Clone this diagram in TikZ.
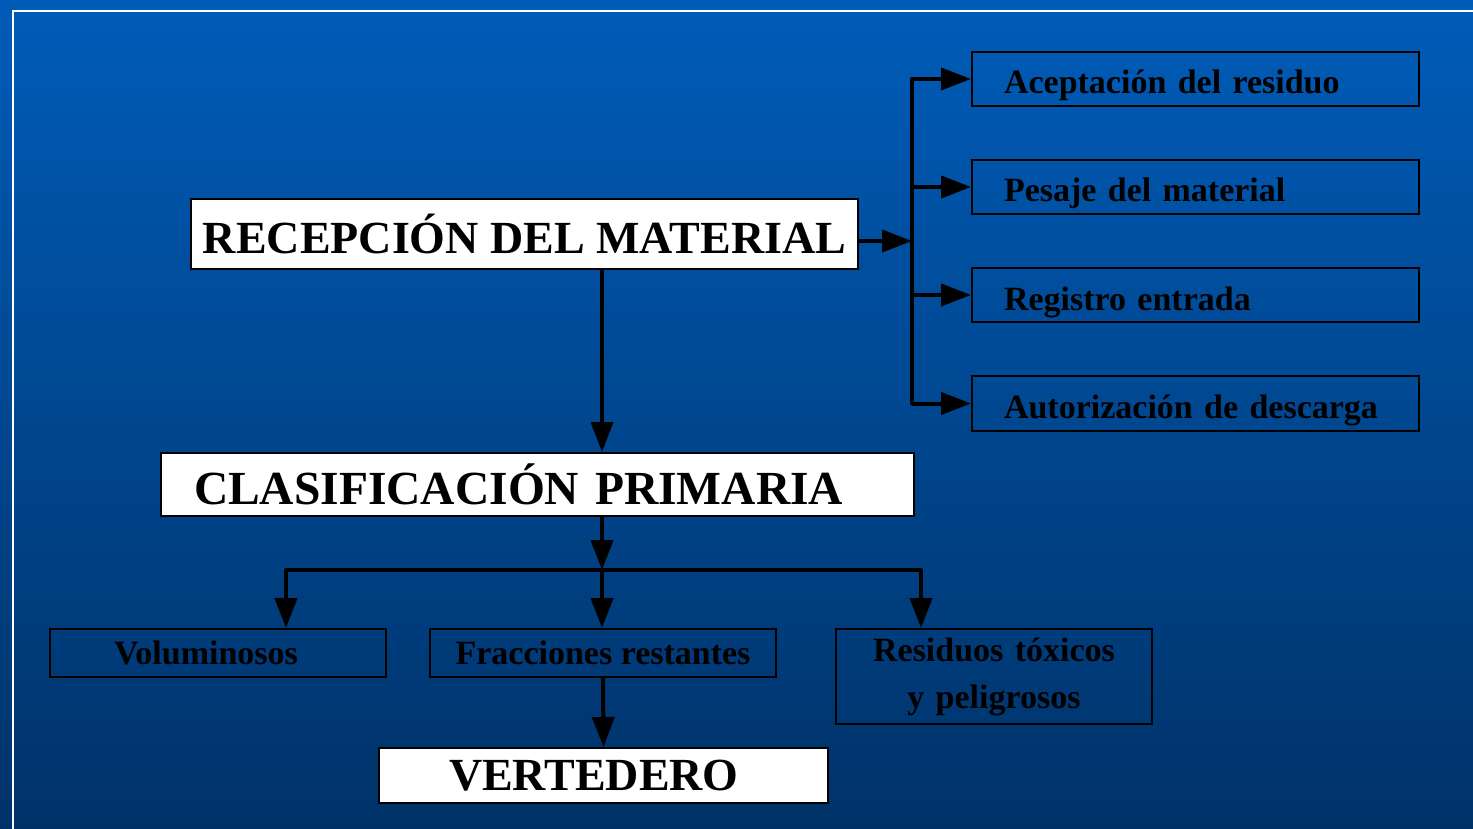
\documentclass[tikz,border=0pt]{standalone}
\usepackage{fontspec}
\setmainfont{Liberation Serif}
\usetikzlibrary{positioning,arrows.meta}
\definecolor{bgtop}{RGB}{0,92,184}
\definecolor{bgbottom}{RGB}{0,50,104}

\begin{document}
\begin{tikzpicture}[
    x=1pt, y=-1pt,
    mainbox/.style={rectangle, draw=black, fill=white, line width=2pt, anchor=north west, inner sep=0pt, font=\bfseries\fontsize{46}{50}\selectfont},
    stepbox/.style={rectangle, draw=black, line width=2pt, anchor=north west, inner sep=0pt, font=\bfseries\fontsize{34}{47}\selectfont},
    sidebox/.style={stepbox, inner xsep=32pt, text width=383pt, align=left, minimum height=54pt, text height=30pt, text depth=0pt},
    flow/.style={line width=4pt, line join=round, -{Triangle[length=30pt,width=22pt]}},
    ]
    %Background
    \useasboundingbox (0,0) rectangle (1473,829);
    \shade[top color=bgtop, bottom color=bgbottom] (0,0) rectangle (1473,829);
    \draw[white, line width=2pt] (13,829) -- (13,11) -- (1473,11);

    %Nodes
    \node[mainbox, minimum width=667pt, minimum height=70pt] (recep) at (190,198) {RECEPCIÓN DEL MATERIAL};
    \node[mainbox, inner xsep=33pt, text width=687pt, align=left, minimum height=63pt, font=\bfseries\fontsize{47.5}{50}\selectfont] (clasif) at (160,452) {CLASIFICACIÓN PRIMARIA};
    \node[mainbox, inner xsep=70pt, text width=309pt, align=left, minimum height=55pt] (verte) at (378,747) {VERTEDERO};

    \node[sidebox] (acep)   at (971,51)  {Aceptación del residuo};
    \node[sidebox] (pesaje) at (971,159) {Pesaje del material};
    \node[sidebox] (regis)  at (971,267) {Registro entrada};
    \node[sidebox, minimum height=55pt] (autor) at (971,375) {Autorización de descarga};

    \node[stepbox, inner xsep=64pt, text width=208pt, align=left, minimum height=48pt] (volum)  at (49,628)  {Voluminosos};
    \node[stepbox, minimum width=346pt, minimum height=48pt] (fracc)  at (429,628) {Fracciones restantes};
    \node[stepbox, text width=316pt, align=center, minimum height=95pt] (resid) at (835,628) {Residuos tóxicos\\y peligrosos};

    %Lines
    \coordinate (rbus)  at (912,241);
    \coordinate (split) at (602,570);
    \coordinate (vtip)  at (286,628);
    \coordinate (rtip)  at (921,628);

    \draw[flow] (recep.east |- rbus) -- (rbus);
    \draw[line width=4pt, line cap=round] (rbus |- acep.west) -- (rbus |- autor.west);
    \foreach \item in {acep, pesaje, regis, autor}
        \draw[flow] (rbus |- \item.west) -- (\item.west);

    \draw[flow] (split |- recep.south) -- (split |- clasif.north);
    \draw[flow] (split |- clasif.south) -- (split);
    \draw[flow] (split) -| (vtip);
    \draw[flow] (split) -| (rtip);
    \draw[flow] (split) -- (split |- fracc.north);
    \draw[flow] (fracc.south) -- (verte.north);

    \end{tikzpicture}
\end{document}
